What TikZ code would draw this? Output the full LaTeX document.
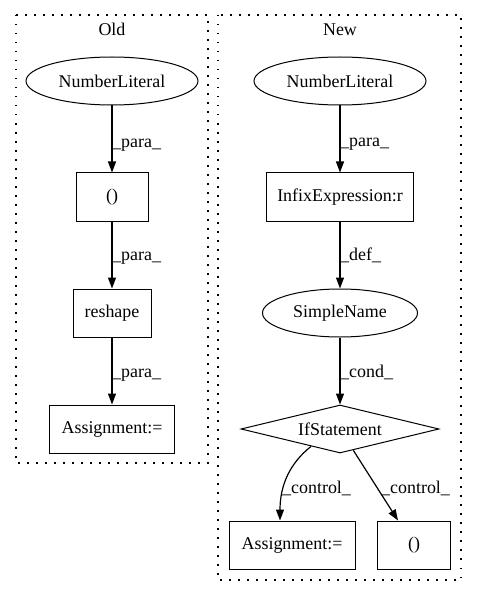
\documentclass[tikz,border=0pt]{standalone}
\usepackage{fontspec}
\setmainfont{Liberation Serif}
\usetikzlibrary{arrows.meta,shapes.geometric}
\begin{document}
\begin{tikzpicture}[x=1bp,y=-1bp,
  every node/.style={font=\fontsize{18}{21}\selectfont, inner sep=0pt},
  box/.style={draw, line width=1bp, rectangle, minimum height=48bp},
  ell/.style={draw, line width=1bp, ellipse, minimum height=48bp},
  dia/.style={draw, line width=1bp, diamond, aspect=4.125, minimum width=198bp, minimum height=48bp},
  edge/.style={draw, line width=1.2bp, -{Triangle[length=11bp,width=8bp]}},
  lbl/.style={anchor=base west},
  cluster/.style={draw, line width=1.3bp, dash pattern=on 1.5bp off 7.5bp}]
\useasboundingbox (0,0) rectangle (477,596);
\draw[cluster] (16,15) rectangle (208,463);
\draw[cluster] (218,15) rectangle (461,580);
\node[anchor=base] (told) at (112,36) {Old};
\node[anchor=base] (tnew) at (340,36) {New};
% Old
\node[ell, minimum width=172bp] (nl1) at (112,81) {NumberLiteral};
\node[box, minimum width=72bp] (c1) at (112,197) {()};
\node[box, minimum width=78bp] (rs) at (112,313) {reshape};
\node[box, minimum width=125bp] (a1) at (112,429) {Assignment:=};
\draw[edge] (nl1) -- (c1);
\draw[edge] (c1) -- (rs);
\draw[edge] (rs) -- (a1);
\node[lbl] (l1) at (112,148) {\_para\_};
\node[lbl] (l2) at (112,260) {\_para\_};
\node[lbl] (l3) at (112,377) {\_para\_};
% New
\node[ell, minimum width=172bp] (nl2) at (340,81) {NumberLiteral};
\node[box, minimum width=147bp] (ix) at (340,197) {InfixExpression:r};
\node[ell, minimum width=155bp] (sn) at (340,313) {SimpleName};
\node[dia] (if) at (340,429) {IfStatement};
\node[box, minimum width=126bp] (a2) at (292,545) {Assignment:=};
\node[box, minimum width=73bp] (c2) at (414,545) {()};
\draw[edge] (nl2) -- (ix);
\draw[edge] (ix) -- (sn);
\draw[edge] (sn) -- (if);
\draw[edge] (if.211) .. controls (290,463) and (280,485) .. ([xshift=-12bp]a2.north);
\draw[edge] (if.302) -- ([xshift=-16bp]c2.north);
\node[lbl] (l4) at (340,147) {\_para\_};
\node[lbl] (l5) at (340,260) {\_def\_};
\node[lbl] (l6) at (340,377) {\_cond\_};
\node[lbl] (l7) at (282,493) {\_control\_};
\node[lbl] (l8) at (381,493) {\_control\_};
\end{tikzpicture}
\end{document}
